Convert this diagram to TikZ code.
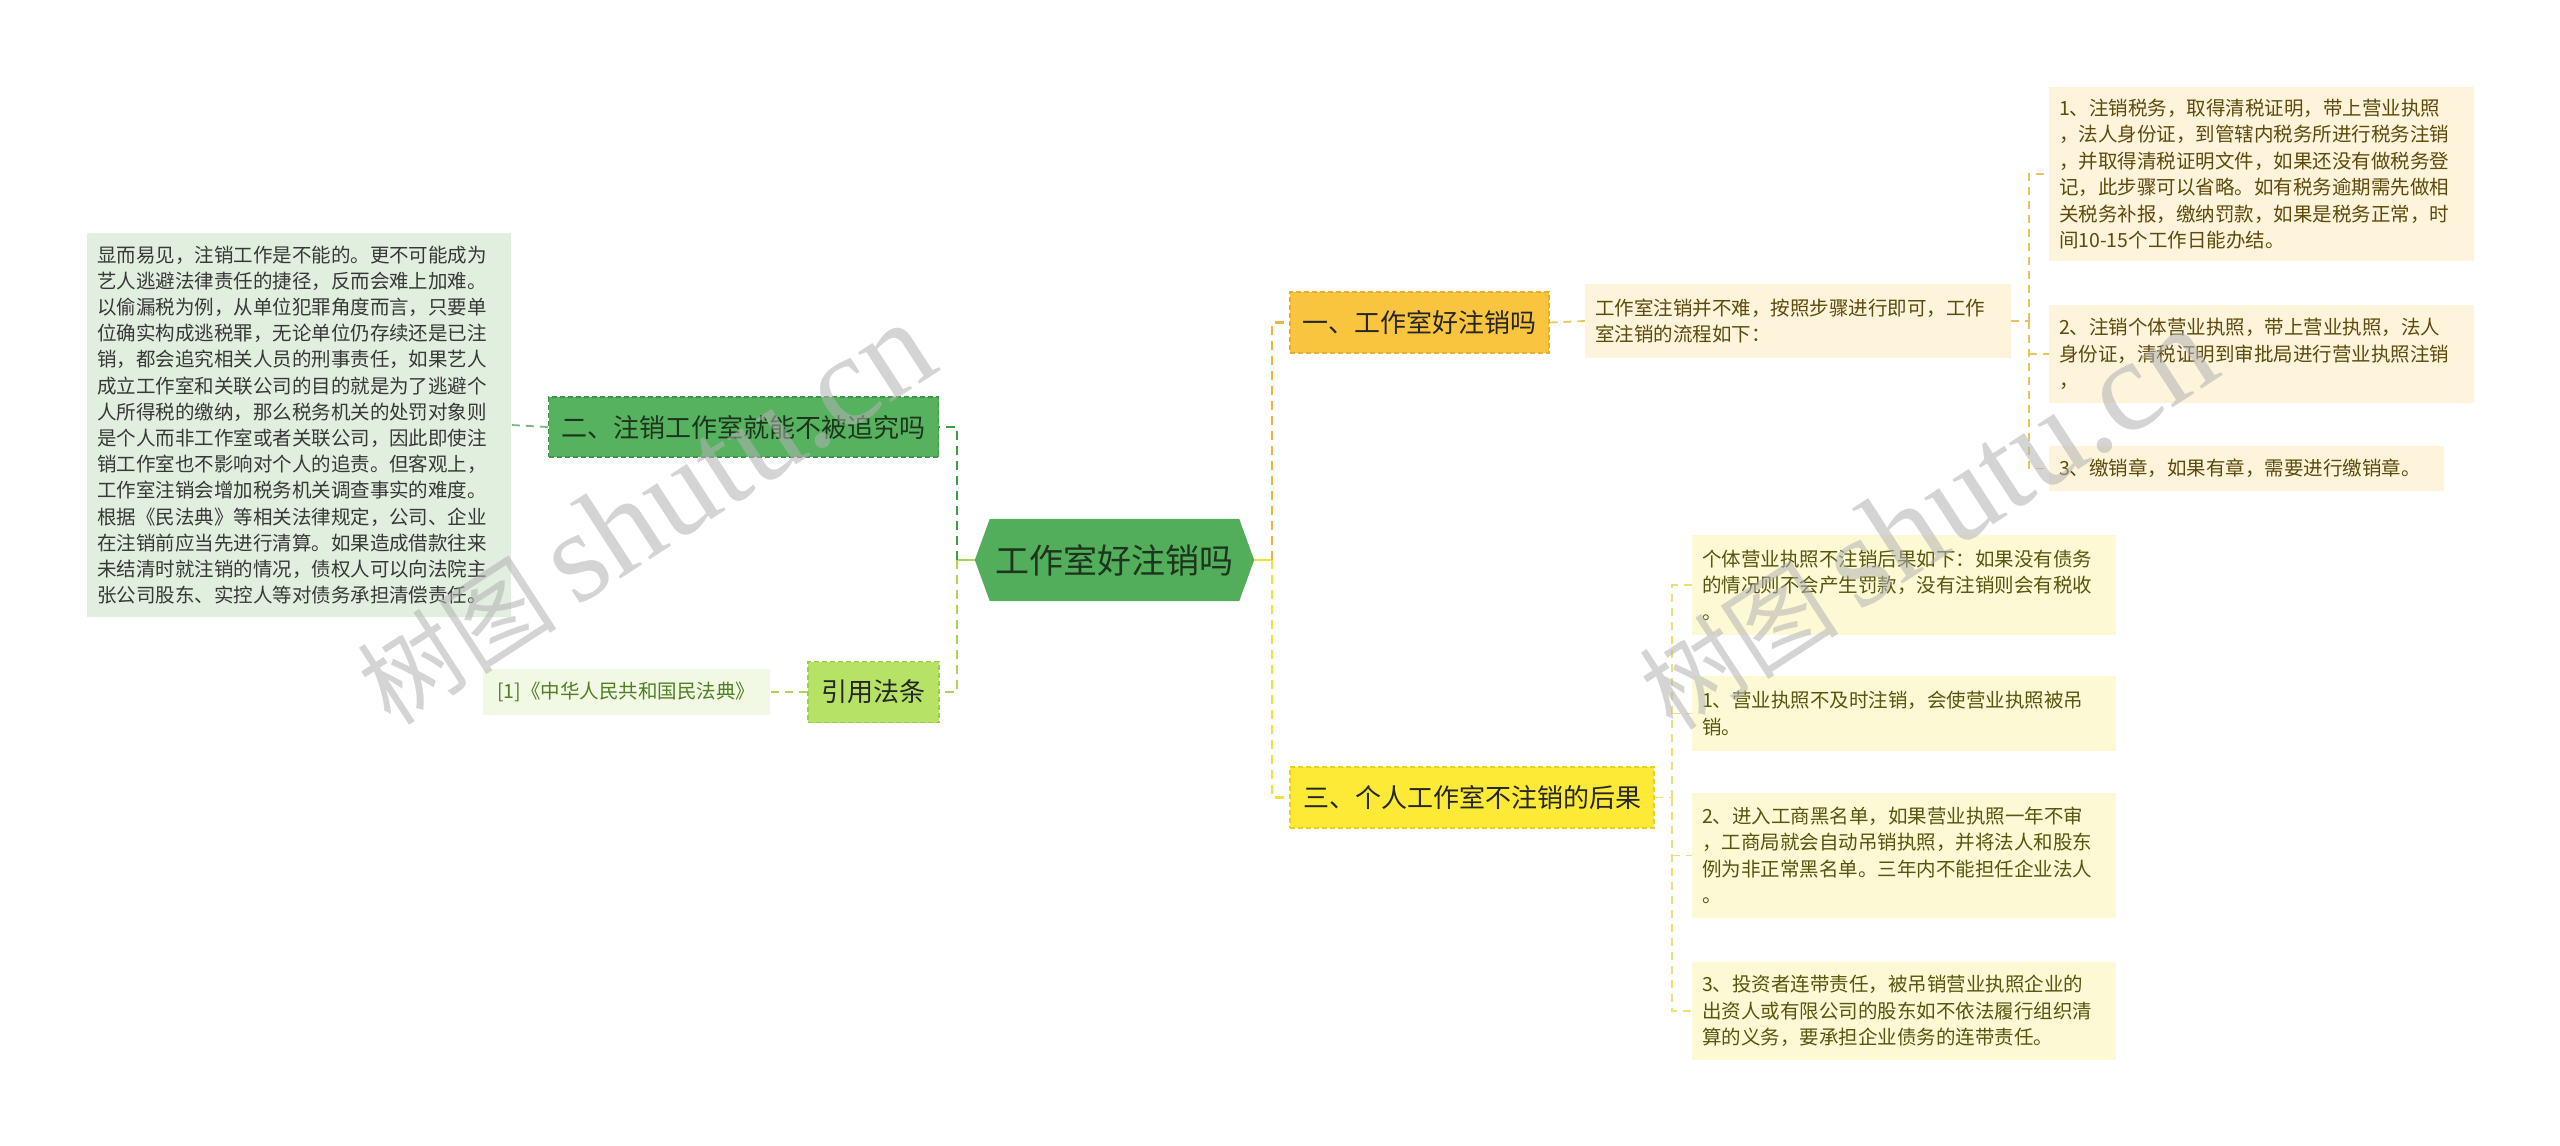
\documentclass[tikz,border=0pt]{standalone}
\usepackage{fontspec}
\setmainfont{Noto Sans CJK SC}
\newfontfamily\wmserif{Liberation Serif}
\usetikzlibrary{backgrounds}
\definecolor{rootfill}{HTML}{52AE5B}
\definecolor{roottext}{HTML}{1C351C}
\definecolor{twofill}{HTML}{57B260}
\definecolor{twoedge}{HTML}{3C9A45}
\definecolor{leftbox}{HTML}{E1EFDF}
\definecolor{citefill}{HTML}{B6E266}
\definecolor{citeedge}{HTML}{9BCB48}
\definecolor{reffill}{HTML}{F1F8E4}
\definecolor{reftext}{HTML}{4F7F22}
\definecolor{onefill}{HTML}{F9C53F}
\definecolor{oneedge}{HTML}{E7AE2B}
\definecolor{stepfill}{HTML}{FDF4DB}
\definecolor{steptext}{HTML}{5E4A0C}
\definecolor{threefill}{HTML}{FCEA36}
\definecolor{threeedge}{HTML}{E6D21E}
\definecolor{conbox}{HTML}{FEF9D5}
\definecolor{context}{HTML}{56560E}
\definecolor{dgline}{HTML}{3E9B47}
\definecolor{lgline}{HTML}{A8D752}
\definecolor{orline}{HTML}{F2B53A}
\definecolor{ylline}{HTML}{F4DF3C}
\definecolor{orleafc}{HTML}{EBC25B}
\definecolor{ylleafc}{HTML}{EEE070}
\tikzset{
  fsmall/.style={font=\fontsize{19.5pt}{26.5pt}\selectfont},
  topic/.style={rectangle, inner sep=0pt, font=\fontsize{26pt}{30pt}\selectfont, dashed, line width=1.3pt, dash pattern=on 5pt off 3pt},
  leafbox/.style={rectangle, inner xsep=10pt, inner ysep=0pt, align=left, fsmall},
  conn/.style={line width=2.4pt, dash pattern=on 9pt off 6pt},
  leafconn/.style={line width=1.8pt, dash pattern=on 8pt off 6pt},
  wm/.style={rotate=33, text=black!30, opacity=0.55, inner sep=0pt}
}
\begin{document}
\begin{tikzpicture}[x=1pt,y=-1pt]
\useasboundingbox (0,0) rectangle (2560,1146);

% root
\node[inner sep=0pt, minimum width=249pt, minimum height=82pt, font=\fontsize{34pt}{38pt}\selectfont, text=roottext] (root) at (1114.5,560) {工作室好注销吗};
\coordinate (rootL) at ([xshift=-15pt]root.west);
\coordinate (rootR) at ([xshift=15pt]root.east);
\begin{pgfonlayer}{background}
\fill[white] (0,0) rectangle (2560,1146);
\fill[rootfill] (rootL) -- (root.north west) -- (root.north east) -- (rootR) -- (root.south east) -- (root.south west) -- cycle;
\end{pgfonlayer}

% left side
\node[topic, fill=twofill, draw=twoedge, text=roottext, minimum width=390pt, minimum height=60pt] (n2) at (743.5,427) {二、注销工作室就能不被追究吗};
\node[leafbox, fill=leftbox, text=black!78, text width=404pt, minimum height=384pt, font=\fontsize{19.5pt}{26.2pt}\selectfont] (lefttext) at (299,425) {显而易见，注销工作是不能的。更不可能成为\\艺人逃避法律责任的捷径，反而会难上加难。\\以偷漏税为例，从单位犯罪角度而言，只要单\\位确实构成逃税罪，无论单位仍存续还是已注\\销，都会追究相关人员的刑事责任，如果艺人\\成立工作室和关联公司的目的就是为了逃避个\\人所得税的缴纳，那么税务机关的处罚对象则\\是个人而非工作室或者关联公司，因此即使注\\销工作室也不影响对个人的追责。但客观上，\\工作室注销会增加税务机关调查事实的难度。\\根据《民法典》等相关法律规定，公司、企业\\在注销前应当先进行清算。如果造成借款往来\\未结清时就注销的情况，债权人可以向法院主\\张公司股东、实控人等对债务承担清偿责任。};
\node[topic, fill=citefill, draw=citeedge, text=black!85, minimum width=131pt, minimum height=61pt] (cite) at (873.5,692) {引用法条};
\node[rectangle, inner sep=0pt, fill=reffill, text=reftext, minimum width=287pt, minimum height=46pt, fsmall] (ref) at (626,692) {[1]《中华人民共和国民法典》};

\coordinate (jL) at (957,560);
\draw[lgline, line width=2.4pt] (rootL) -- (jL);
\draw[conn, dgline] (jL) |- (n2.east);
\draw[conn, lgline] (jL) |- (cite.east);
\draw[leafconn, dgline!70] (n2.west) -- (lefttext.east);
\draw[leafconn, lgline] (cite.west) -- (ref.east);

% right side
\node[topic, fill=onefill, draw=oneedge, text=black!85, minimum width=259pt, minimum height=61pt] (n1) at (1419.5,322.5) {一、工作室好注销吗};
\node[leafbox, fill=stepfill, text=steptext, text width=406pt, minimum height=74pt] (desc1) at (1798,321) {工作室注销并不难，按照步骤进行即可，工作\\室注销的流程如下：};
\node[leafbox, fill=stepfill, text=steptext, text width=405pt, minimum height=174pt] (s1) at (2261.5,174) {1、注销税务，取得清税证明，带上营业执照\\，法人身份证，到管辖内税务所进行税务注销\\，并取得清税证明文件，如果还没有做税务登\\记，此步骤可以省略。如有税务逾期需先做相\\关税务补报，缴纳罚款，如果是税务正常，时\\间10-15个工作日能办结。};
\node[leafbox, fill=stepfill, text=steptext, text width=405pt, minimum height=98pt] (s2) at (2261.5,354) {2、注销个体营业执照，带上营业执照，法人\\身份证，清税证明到审批局进行营业执照注销\\，};
\node[leafbox, fill=stepfill, text=steptext, text width=375pt, minimum height=45pt] (s3) at (2246.5,468.5) {3、缴销章，如果有章，需要进行缴销章。};

\node[topic, fill=threefill, draw=threeedge, text=black!85, minimum width=364pt, minimum height=61pt] (n3) at (1472,797.5) {三、个人工作室不注销的后果};
\node[leafbox, fill=conbox, text=context, text width=404pt, minimum height=100pt] (c0) at (1904,585) {个体营业执照不注销后果如下：如果没有债务\\的情况则不会产生罚款，没有注销则会有税收\\。};
\node[leafbox, fill=conbox, text=context, text width=404pt, minimum height=75pt] (c1) at (1904,713.5) {1、营业执照不及时注销，会使营业执照被吊\\销。};
\node[leafbox, fill=conbox, text=context, text width=404pt, minimum height=125pt] (c2) at (1904,855.5) {2、进入工商黑名单，如果营业执照一年不审\\，工商局就会自动吊销执照，并将法人和股东\\例为非正常黑名单。三年内不能担任企业法人\\。};
\node[leafbox, fill=conbox, text=context, text width=404pt, minimum height=98pt] (c3) at (1904,1011) {3、投资者连带责任，被吊销营业执照企业的\\出资人或有限公司的股东如不依法履行组织清\\算的义务，要承担企业债务的连带责任。};

\coordinate (jR) at (1272,560);
\draw[ylline, line width=2.4pt] (rootR) -- (jR);
\draw[conn, orline] (jR) |- (n1.west);
\draw[conn, ylline] (jR) |- (n3.west);
\draw[leafconn, orleafc] (n1.east) -- (desc1.west);

\coordinate (jS) at (2029,321);
\draw[leafconn, orleafc] (desc1.east) -- (jS);
\draw[leafconn, orleafc] (jS) |- (s1.west);
\draw[leafconn, orleafc] (jS) |- (s3.west);
\draw[leafconn, orleafc] (jS |- s2.west) -- (s2.west);

\coordinate (jC) at (1672,797.5);
\draw[leafconn, ylleafc] (n3.east) -- (jC);
\draw[leafconn, ylleafc] (jC) |- (c0.west);
\draw[leafconn, ylleafc] (jC) |- (c3.west);
\draw[leafconn, ylleafc] (jC |- c1.west) -- (c1.west);
\draw[leafconn, ylleafc] (jC |- c2.west) -- (c2.west);

% watermarks
\node[wm] (wmL) at (645,514) {{\fontsize{100pt}{100pt}\selectfont 树图}\hspace{20pt}{\wmserif\fontsize{130pt}{130pt}\selectfont shutu.cn}};
\node[wm] (wmR) at (1927,519) {{\fontsize{100pt}{100pt}\selectfont 树图}\hspace{20pt}{\wmserif\fontsize{130pt}{130pt}\selectfont shutu.cn}};
\end{tikzpicture}
\end{document}
